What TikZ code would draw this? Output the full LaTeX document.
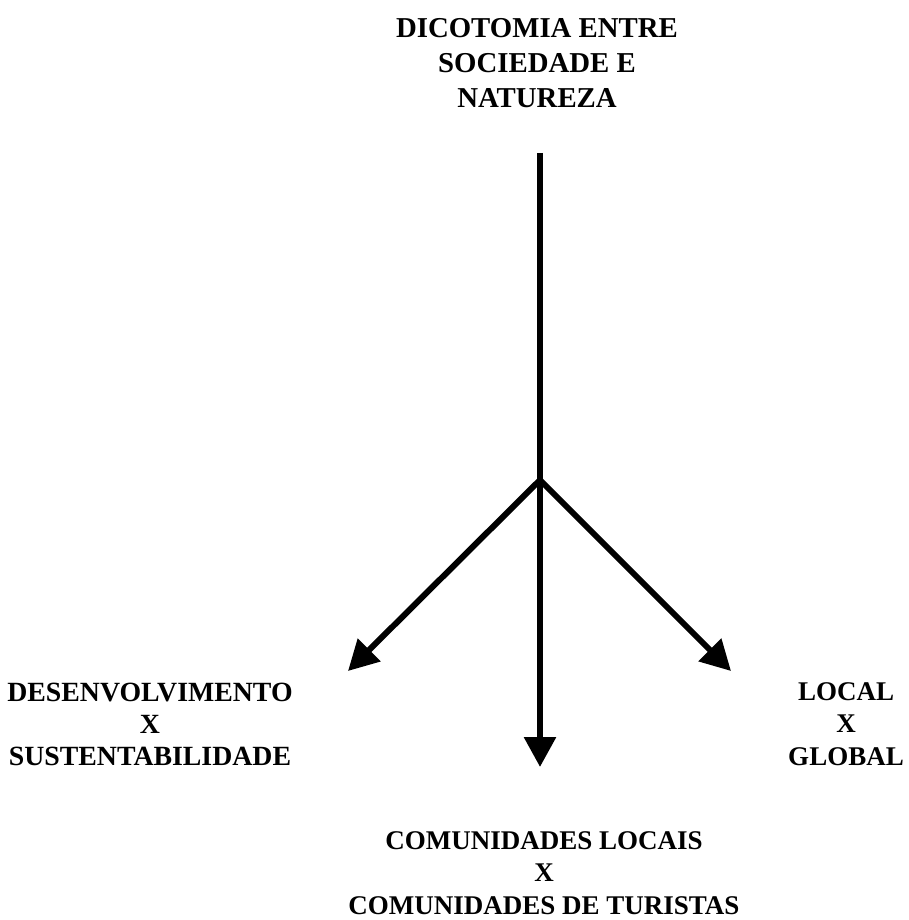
\documentclass[tikz,border=0pt]{standalone}
\usepackage{fontspec}
\setmainfont{Liberation Serif}
\usetikzlibrary{arrows.meta}
\begin{document}
\begin{tikzpicture}[x=1pt,y=-1pt,
  lbl/.style={font=\bfseries\fontsize{27}{32.5}\selectfont, align=center, inner sep=0pt},
  toplbl/.style={lbl, font=\bfseries\fontsize{28.8}{35}\selectfont},
  sidelbl/.style={lbl, font=\bfseries\fontsize{27.8}{32}\selectfont},
  stem/.style={line width=6pt},
  conn/.style={line width=6pt, -{Triangle[length=30pt,width=31pt]}}]
\useasboundingbox (0,0) rectangle (909,920);
\node[toplbl] (top) at (537,63) {DICOTOMIA ENTRE\\SOCIEDADE E\\NATUREZA};
\node[sidelbl] (left) at (150,724) {DESENVOLVIMENTO\\X\\SUSTENTABILIDADE};
\node[lbl] (right) at (846,724) {LOCAL\\X\\GLOBAL};
\node[lbl] (bottom) at (544,873) {COMUNIDADES LOCAIS\\X\\COMUNIDADES DE TURISTAS};
\coordinate (start) at (540,153);
\coordinate (branch) at (540,480);
\coordinate (lt) at (348,671);
\coordinate (rt) at (731,671);
\coordinate (bt) at (540,767);
\draw[stem] (start) -- (branch);
\draw[conn] (branch) -- (lt);
\draw[conn] (branch) -- (rt);
\draw[conn] (branch) -- (bt);
\end{tikzpicture}
\end{document}
